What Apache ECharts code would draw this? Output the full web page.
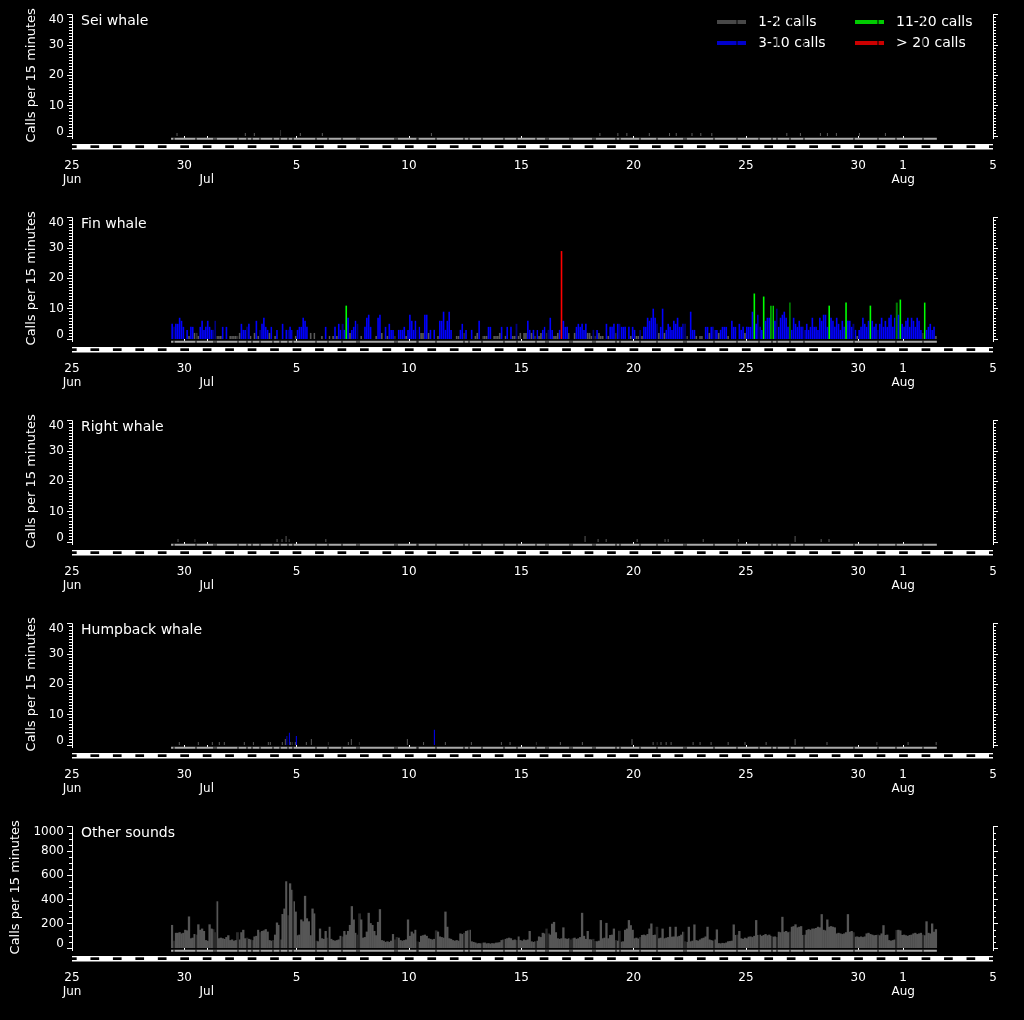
<!DOCTYPE html>
<html><head><meta charset="utf-8">
<script src="https://cdn.jsdelivr.net/npm/echarts@6/dist/echarts.min.js"></script>
<style>html,body{margin:0;padding:0;background:#000;}#c{width:1024px;height:1020px;}</style>
</head><body><div id="c"></div>
<script>
// ---------- DATA ----------
// time axis: days since 25 Jun 00:00 (25 Jun = 0, 5 Aug = 41)
const xTickDays   = [0, 5, 6, 10, 15, 20, 25, 30, 35, 37, 41];
const xTickLabels = ['25\nJun', '30', '\nJul', '5', '10', '15', '20', '25', '30', '1\nAug', '5'];
const panelTitles = ['Sei whale', 'Fin whale', 'Right whale', 'Humpback whale', 'Other sounds'];
const legendNames = ['1-2 calls', '3-10 calls', '11-20 calls', '> 20 calls'];
const yMaxes      = [40, 40, 40, 40, 1000];
const yIntervals  = [10, 10, 10, 10, 200];

// recording effort
const recordingSpan = [4.41, 38.5];
const recordingGaps = [4.555, 5.534, 6.336, 6.425, 7.404, 7.778, 8.001, 8.370, 8.936, 9.261, 9.630,
  9.853, 10.850, 11.385, 12.035, 12.676, 12.778, 14.381, 14.484, 15.347, 15.418, 16.193, 17.467,
  17.689, 18.268, 19.248, 19.813, 20.646, 21.091, 21.180, 22.173, 22.262, 23.210, 23.299, 24.234,
  24.412, 25.302, 26.059, 27.262, 27.351, 28.597, 29.621, 30.601, 31.180, 31.402, 31.981, 32.605,
  34.831, 35.899, 36.701, 37.889];
// night (dark) hours shown in the date bar
const duskHour = 19.7, dawnHour = 5.0;

// 2-hour bins starting 29 Jun 10:00 (max calls per 15 min within the bin)
const binStartDay = 4 + 10 / 24;
const binHours = 2;
const finCalls = [
  5,4,5,5,7,6,4,0,3,1, 4,4,2,2,1,4,6,3,4,6, 4,3,3,6,1,1,1,4,0,4, 0,1,1,1,1,1,2,5,3,3,
  4,5,1,0,2,6,1,3,5,7, 4,3,2,4,0,1,3,0,0,5, 0,3,3,4,3,0,1,3,4,4, 7,6,4,0,2,0,2,0,0,0,
  1,0,4,0,1,0,1,4,1,5, 3,5,3,11,7,2,3,4,6,5, 0,1,0,4,7,8,4,0,0,1, 7,8,2,0,4,1,5,3,3,1,
  0,3,3,3,4,1,3,8,6,3, 6,3,4,2,2,8,8,2,3,0, 3,0,1,6,6,9,3,6,9,3, 0,0,1,1,3,5,2,3,0,0,
  3,0,1,2,6,0,1,1,1,4, 4,0,1,1,1,2,4,0,1,4, 0,4,1,1,5,1,2,0,2,2, 6,3,2,3,1,3,1,2,3,4,
  2,3,7,3,1,1,2,3,29,6, 4,4,2,0,0,2,4,5,4,5, 3,5,2,2,1,3,1,3,2,1, 1,0,5,1,4,4,5,2,5,5,
  4,4,4,0,4,1,4,3,1,1, 3,1,4,4,7,6,7,10,7,5, 2,4,10,2,3,5,4,3,6,5, 7,4,4,5,5,1,0,9,3,3,
  1,0,1,1,0,4,4,2,4,4, 3,3,2,3,4,4,4,1,0,6, 4,4,0,5,3,4,2,4,4,4, 9,15,5,8,4,3,14,6,7,7,
  11,11,6,10,4,7,8,9,7,4, 12,3,7,5,4,6,4,4,3,5, 3,4,7,4,4,3,7,6,8,8, 4,11,7,6,4,7,5,3,6,4,
  12,6,6,4,5,3,1,3,4,7, 5,4,6,11,6,4,5,3,5,7, 4,6,4,7,8,4,7,12,8,13, 5,4,6,7,4,7,6,4,7,6,
  3,2,12,3,4,5,3,4,1
];
const otherSounds = [
  190,60,125,125,130,120,125,150,145,260, 80,85,115,110,195,150,160,140,65,60,
  195,160,155,130,385,80,85,80,75,90, 105,65,70,60,65,130,70,130,150,80,
  85,75,70,65,95,100,150,130,140,145, 155,135,65,60,65,110,210,190,70,280,
  325,550,270,533,480,385,300,105,110,235, 220,430,245,220,105,325,285,60,55,160,
  80,75,140,85,175,75,65,60,65,70, 100,95,140,110,140,190,345,235,125,110,
  285,235,85,90,135,290,205,190,140,105, 215,320,65,60,50,55,50,60,115,70,
  90,85,65,60,65,70,235,100,135,120, 150,55,50,100,105,110,100,80,75,70,
  75,145,135,95,90,85,300,175,80,75, 65,60,65,60,120,115,125,140,145,150,
  55,50,45,38,40,38,44,45,38,40, 36,40,38,44,45,48,65,70,75,80,
  85,80,65,70,65,95,65,60,70,65, 70,140,55,50,55,60,95,90,125,120,
  160,120,110,200,215,130,80,75,80,170, 80,75,80,70,80,85,75,80,90,290,
  100,75,140,72,70,75,57,55,60,230, 80,85,207,80,107,110,160,65,60,142,
  52,55,150,160,230,188,150,80,85,78, 90,107,110,105,115,160,202,107,110,175,
  80,85,160,80,85,90,175,93,95,175, 95,100,110,134,55,50,175,55,60,194,
  65,60,70,80,85,95,175,70,65,60, 70,153,40,38,42,40,45,55,57,60,
  194,107,110,140,80,75,85,80,93,95, 90,100,230,107,110,100,107,115,105,110,
  100,93,95,90,134,130,257,134,140,130, 135,175,180,195,170,175,180,107,110,148,
  155,150,160,160,165,175,170,279,150,145, 235,175,180,175,170,120,125,120,115,120,
  130,279,134,140,130,93,95,90,95,90, 95,120,125,115,110,105,107,110,105,120,
  188,107,110,65,60,65,70,148,150,145, 107,110,105,100,107,110,120,125,115,120,
  125,110,105,220,125,120,202,134,155
];
// sparse detections: [day, calls per 15 min]
const seiCalls = [[4.675,1],[7.716,1],[8.117,1],[9.283,2],[10.165,1],[11.144,1],[16.0,1],[23.5,1],
  [24.3,1],[24.7,1],[25.7,1],[26.6,1],[26.9,1],[27.6,1],[27.992,1],[28.482,1],[31.821,1],[32.427,1],
  [33.317,1],[33.629,1],[34.029,1],[35.053,1],[36.211,1]];
const rightCalls = [[4.72,1],[5.48,1],[9.13,1],[9.35,1],[9.53,2],[9.66,1],[11.3,1],[22.84,2],[23.42,1],
  [23.78,1],[25.16,1],[26.4,1],[26.54,1],[28.1,1],[29.66,1],[32.19,2],[33.35,1],[33.7,1]];
const humpbackCalls = [[4.777,1],[5.623,1],[6.247,1],[6.558,1],[6.781,1],[7.671,1],[8.072,1],[8.740,1],
  [8.829,1],[9.363,1],[9.497,2],[9.573,3],[9.675,4],[9.719,1],[9.808,1],[9.942,1],[9.987,3],[10.432,1],
  [10.655,2],[11.411,1],[12.302,1],[12.435,2],[12.792,1],[14.929,2],[15.650,1],[16.131,5],[16.621,1],
  [17.778,1],[19.114,1],[19.501,1],[20.672,1],[21.741,1],[22.720,1],[24.93,2],[25.87,1],[26.05,1],
  [26.22,1],[26.45,1],[26.67,1],[27.65,1],[27.96,1],[28.45,1],[29.21,1],[29.96,1],[30.9,1],[32.19,2],
  [33.61,1],[35.84,1],[37.22,1],[38.47,1]];

// ---------- STYLE ----------
const FONT = 'DejaVu Sans';
const classColors = ['#5a5a5a', '#0000ff', '#00ff00', '#ff0000'];
const otherColor = '#565656';
function callColor(v) { return v > 20 ? classColors[3] : v > 10 ? classColors[2] : v > 2 ? classColors[1] : classColors[0]; }

const binPoints = arr => arr.map((v, j) => [binStartDay + (j + 0.5) * binHours / 24, v]).filter(p => p[1] > 0);
const panelPoints = [seiCalls, binPoints(finCalls), rightCalls, humpbackCalls, binPoints(otherSounds)];
const barWidths = [1, 1.6, 1, 1, 2.3];

const xLabelMap = {};
xTickDays.forEach((d, i) => xLabelMap[d] = xTickLabels[i]);

const nights = [];
for (let d = 0; d <= 41; d++) {
  const a = Math.max(0, d - (24 - duskHour) / 24), b = Math.min(41, d + dawnHour / 24);
  if (b > a) nights.push([a, b]);
}

const panelStep = 203;
const grids = [], xAxes = [], yAxes = [], series = [], titles = [];

panelTitles.forEach((title, k) => {
  const dy = panelStep * k;
  const ymax = yMaxes[k];
  const gm = grids.length;
  grids.push({left: 72, right: 31, top: 14.7 + dy, height: 121.3, outerBoundsMode: 'none'});
  const gb = grids.length;
  grids.push({left: 72, right: 31, top: 136 + dy, height: 14, outerBoundsMode: 'none'});

  const xm = xAxes.length;
  xAxes.push({gridIndex: gm, type: 'value', min: 0, max: 41, show: false});
  const xb = xAxes.length;
  xAxes.push({gridIndex: gb, type: 'value', min: 0, max: 41,
    axisLine: {show: false},
    axisTick: {show: true, customValues: xTickDays, length: 3, lineStyle: {color: '#fff', width: 1}},
    axisLabel: {show: true, customValues: xTickDays, formatter: v => xLabelMap[v] || '',
      color: '#fff', fontFamily: FONT, fontSize: 12, lineHeight: 14, margin: 9},
    splitLine: {show: false}});

  const labelFmt = v => v === ymax ? '{t|' + v + '}' : v === 0 ? '{b|0}' : String(v);
  const rich = {t: {color: '#fff', fontFamily: FONT, fontSize: 12, padding: [10, 0, 0, 0]},
                b: {color: '#fff', fontFamily: FONT, fontSize: 12, padding: [0, 0, 8, 0]}};
  const commonY = {type: 'value', min: 0, max: ymax, interval: yIntervals[k],
    axisLine: {show: true, onZero: false, lineStyle: {color: '#fff', width: 1}},
    axisTick: {show: true, length: 5, lineStyle: {color: '#fff'}},
    minorTick: {show: true, splitNumber: ymax === 40 ? 10 : 4, length: 3, lineStyle: {color: '#fff'}},
    splitLine: {show: false}, minorSplitLine: {show: false}};
  const yl = yAxes.length;
  yAxes.push(Object.assign({gridIndex: gm, position: 'left',
    axisLabel: {color: '#fff', fontFamily: FONT, fontSize: 12, margin: 8, formatter: labelFmt, rich: rich},
    name: 'Calls per 15 minutes', nameLocation: 'middle', nameRotate: 90,
    nameGap: ymax === 40 ? 33 : 49,
    nameTextStyle: {color: '#fff', fontFamily: FONT, fontSize: 13}}, commonY));
  yAxes.push(Object.assign({gridIndex: gm, position: 'right', axisLabel: {show: false}}, commonY));
  const yb = yAxes.length;
  yAxes.push({gridIndex: gb, type: 'value', min: 0, max: 14, inverse: true, show: false});

  titles.push({text: title, left: 81, top: 14 + dy, padding: 0,
    textStyle: {color: '#fff', fontFamily: FONT, fontSize: 14, fontWeight: 'normal'}});

  // bars
  series.push({type: 'bar', name: title, xAxisIndex: xm, yAxisIndex: yl, barWidth: barWidths[k],
    silent: true, z: 2,
    data: panelPoints[k].map(p => ({value: p, itemStyle: {color: k === 4 ? otherColor : callColor(p[1])}}))});

  // recording gaps cutting the bars
  series.push({type: 'custom', xAxisIndex: xm, yAxisIndex: yl, silent: true, z: 4,
    data: recordingGaps.map(g => [g]),
    renderItem: (params, api) => {
      const top = api.coord([api.value(0), ymax]);
      const bot = api.coord([api.value(0), 0]);
      return {type: 'rect', shape: {x: Math.round(bot[0]) - 0.5, y: top[1], width: 1, height: bot[1] - top[1]},
        style: {fill: '#000'}};
    }});

  // effort strip + date bar with nights
  const decoColors = ['#ffffff', '#000000', '#aaaaaa', '#000000'];
  const deco = [[0, 41, 8, 13.5, 0]];
  nights.forEach(n => deco.push([n[0], n[1], 9.3, 12, 1]));
  deco.push([recordingSpan[0], recordingSpan[1], 1.8, 3.8, 2]);
  recordingGaps.forEach(g => deco.push([g, g, 1.5, 4.5, 3]));
  series.push({type: 'custom', xAxisIndex: xb, yAxisIndex: yb, silent: true, clip: false,
    encode: {x: [0, 1], y: [2, 3]},
    data: deco,
    renderItem: (params, api) => {
      const p0 = api.coord([api.value(0), api.value(2)]);
      const p1 = api.coord([api.value(1), api.value(3)]);
      const kind = api.value(4);
      let x = p0[0], w = Math.max(p1[0] - p0[0], 1);
      if (kind === 3) { x = Math.round(p0[0]) - 0.5; w = 1; }
      return {type: 'rect', shape: {x: x, y: p0[1], width: w, height: p1[1] - p0[1]},
        style: {fill: decoColors[kind]}};
    }});
});

// legend-only series (empty scatter, so the bar layout is untouched)
legendNames.forEach((n, i) => series.push({type: 'scatter', name: n, data: [], xAxisIndex: 0, yAxisIndex: 0,
  itemStyle: {color: classColors[i], borderWidth: 0}}));

const legendBase = {orient: 'vertical', top: 15, itemWidth: 29, itemHeight: 4, itemGap: 7,
  icon: 'path://M0 0H29V4H0Z',
  itemStyle: {borderWidth: 0, decal: 'none'}, lineStyle: {width: 0},
  selectedMode: false, padding: 0,
  textStyle: {color: '#fff', fontFamily: FONT, fontSize: 14, lineHeight: 14, padding: [0, 0, 0, 7]}};

const chart = echarts.init(document.getElementById('c'));
chart.setOption({
  backgroundColor: '#000',
  animation: false,
  title: titles,
  legend: [Object.assign({left: 717, data: legendNames.slice(0, 2)}, legendBase),
           Object.assign({left: 855, data: legendNames.slice(2, 4)}, legendBase)],
  grid: grids, xAxis: xAxes, yAxis: yAxes, series: series
});
</script></body></html>
